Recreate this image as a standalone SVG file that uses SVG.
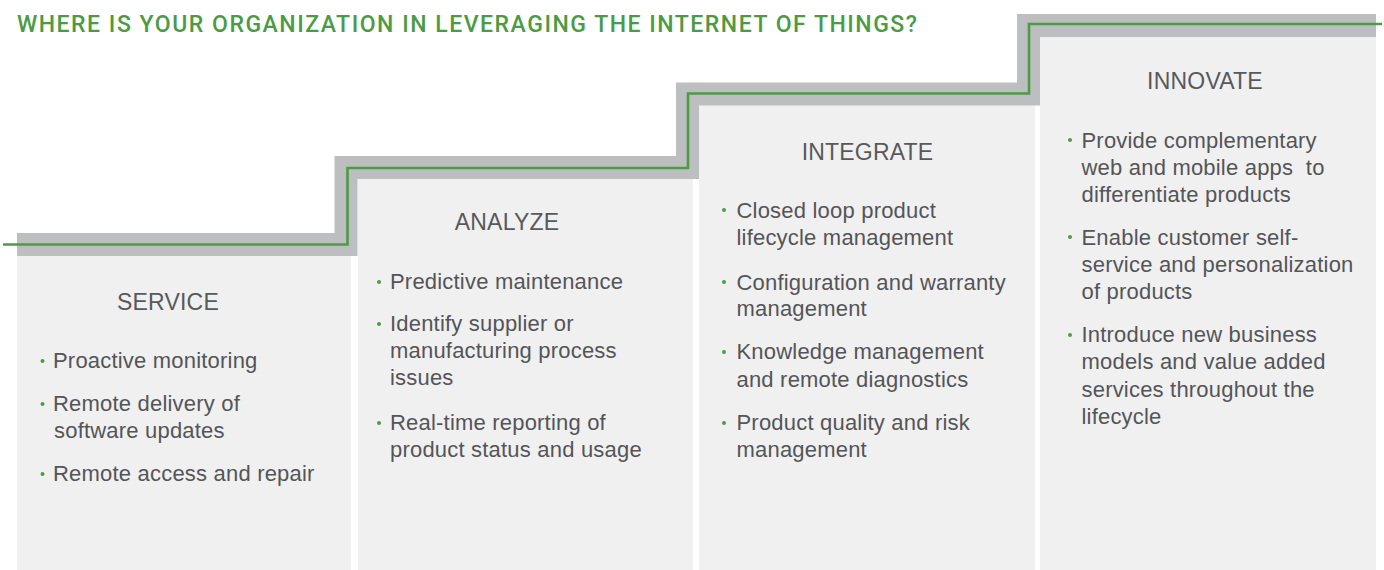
<svg xmlns="http://www.w3.org/2000/svg" width="1384" height="570" viewBox="0 0 1384 570">
<style>
.box{fill:#f0f0f0}
.head{font-family:"Liberation Sans",Arial,sans-serif;font-size:23px;fill:#58595b;text-anchor:middle;letter-spacing:0.2px}
.txt{font-family:"Liberation Sans",Arial,sans-serif;font-size:22px;fill:#545557;letter-spacing:0.2px}
.dot{fill:#4e9a45}
.title{font-family:Roboto,"Liberation Sans",Arial,sans-serif;font-weight:500;font-size:23px;fill:#4b9b43}
</style>
<rect width="1384" height="570" fill="#ffffff"/>
<text class="title" x="17" y="32" textLength="900" lengthAdjust="spacing">WHERE IS YOUR ORGANIZATION IN LEVERAGING THE INTERNET OF THINGS?</text>

<g id="service">
<rect class="box" x="17" y="245" width="334" height="325"/>
<text class="head" x="168" y="310">SERVICE</text>
<circle class="dot" cx="42.5" cy="361" r="2"/>
<text class="txt" x="53" y="368">Proactive monitoring</text>
<circle class="dot" cx="42.5" cy="404" r="2"/>
<text class="txt" x="53" y="411">Remote delivery of</text>
<text class="txt" x="54" y="437.5">software updates</text>
<circle class="dot" cx="42.5" cy="474" r="2"/>
<text class="txt" x="53" y="481">Remote access and repair</text>
</g>

<g id="analyze">
<rect class="box" x="358" y="168" width="335" height="402"/>
<text class="head" x="507" y="230">ANALYZE</text>
<circle class="dot" cx="379" cy="282" r="2"/>
<text class="txt" x="390" y="289">Predictive maintenance</text>
<circle class="dot" cx="379" cy="324" r="2"/>
<text class="txt" x="390" y="331">Identify supplier or</text>
<text class="txt" x="390" y="358">manufacturing process</text>
<text class="txt" x="390" y="385">issues</text>
<circle class="dot" cx="379" cy="423" r="2"/>
<text class="txt" x="390" y="430">Real-time reporting of</text>
<text class="txt" x="390" y="457">product status and usage</text>
</g>

<g id="integrate">
<rect class="box" x="699" y="94" width="336" height="476"/>
<text class="head" x="867.5" y="159.5">INTEGRATE</text>
<circle class="dot" cx="724" cy="210" r="2"/>
<text class="txt" x="736.5" y="217.5">Closed loop product</text>
<text class="txt" x="736.5" y="245">lifecycle management</text>
<circle class="dot" cx="724" cy="282" r="2"/>
<text class="txt" x="736.5" y="289.5">Configuration and warranty</text>
<text class="txt" x="736.5" y="316">management</text>
<circle class="dot" cx="724" cy="352" r="2"/>
<text class="txt" x="736.5" y="359">Knowledge management</text>
<text class="txt" x="736.5" y="386.5">and remote diagnostics</text>
<circle class="dot" cx="724" cy="423" r="2"/>
<text class="txt" x="736.5" y="430">Product quality and risk</text>
<text class="txt" x="736.5" y="457">management</text>
</g>

<g id="innovate">
<rect class="box" x="1040" y="26" width="336" height="544"/>
<text class="head" x="1205" y="88.5">INNOVATE</text>
<circle class="dot" cx="1070" cy="140" r="2"/>
<text class="txt" x="1081.5" y="147.5">Provide complementary</text>
<text class="txt" x="1081.5" y="174.5" xml:space="preserve">web and mobile apps  to</text>
<text class="txt" x="1081.5" y="201.5">differentiate products</text>
<circle class="dot" cx="1070" cy="237" r="2"/>
<text class="txt" x="1081.5" y="244.5">Enable customer self-</text>
<text class="txt" x="1081.5" y="271.5">service and personalization</text>
<text class="txt" x="1081.5" y="298.5">of products</text>
<circle class="dot" cx="1070" cy="335" r="2"/>
<text class="txt" x="1081.5" y="342">Introduce new business</text>
<text class="txt" x="1081.5" y="369">models and value added</text>
<text class="txt" x="1081.5" y="396.5">services throughout the</text>
<text class="txt" x="1081.5" y="424">lifecycle</text>
</g>

<g id="connectors">
<path d="M17 244.5 H346 V167.5 H687.5 V94 H1028.5 V25.5 H1376" fill="none" stroke="#bdbec0" stroke-width="23" stroke-linejoin="miter"/>
<path d="M3 244.5 H347.5 V168 H688 V93.5 H1029 V24 H1382" fill="none" stroke="#4e9a45" stroke-width="2.6" stroke-linejoin="miter"/>
</g>
</svg>
